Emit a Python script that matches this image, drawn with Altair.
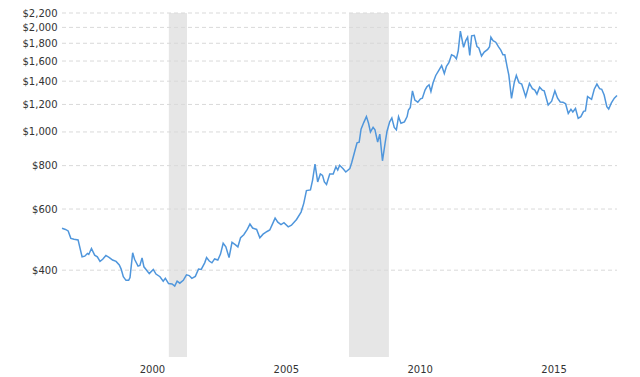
import altair as alt
import pandas as pd

years = [1996.64, 1996.77, 1996.87, 1996.97, 1997.09, 1997.24, 1997.39, 1997.49, 1997.59, 1997.64,
         1997.74, 1997.86, 1997.96, 1998.06, 1998.16, 1998.28, 1998.41, 1998.53, 1998.66, 1998.78,
         1998.85, 1998.93, 1999.03, 1999.13, 1999.18, 1999.28, 1999.35, 1999.48, 1999.55, 1999.63,
         1999.70, 1999.80, 1999.90, 2000.05, 2000.15, 2000.30, 2000.42, 2000.50, 2000.62, 2000.75,
         2000.85, 2000.94, 2001.04, 2001.17, 2001.29, 2001.39, 2001.49, 2001.62, 2001.74, 2001.84,
         2001.97, 2002.04, 2002.14, 2002.24, 2002.34, 2002.46, 2002.56, 2002.66, 2002.76, 2002.88,
         2002.99, 2003.11, 2003.21, 2003.31, 2003.43, 2003.56, 2003.66, 2003.76, 2003.91, 2004.03,
         2004.15, 2004.30, 2004.40, 2004.50, 2004.60, 2004.70, 2004.82, 2004.93, 2005.09, 2005.21,
         2005.40, 2005.57, 2005.67, 2005.77, 2005.92, 2006.00, 2006.09, 2006.19, 2006.29, 2006.37,
         2006.44, 2006.52, 2006.64, 2006.77, 2006.87, 2006.94, 2007.01, 2007.14, 2007.24, 2007.39,
         2007.46, 2007.56, 2007.66, 2007.74, 2007.81, 2007.91, 2008.01, 2008.09, 2008.16, 2008.26,
         2008.33, 2008.43, 2008.51, 2008.61, 2008.71, 2008.78, 2008.88, 2008.96, 2009.05, 2009.13,
         2009.21, 2009.30, 2009.43, 2009.53, 2009.58, 2009.65, 2009.73, 2009.82, 2009.93, 2010.03,
         2010.10, 2010.20, 2010.27, 2010.35, 2010.42, 2010.50, 2010.60, 2010.72, 2010.82, 2010.92,
         2011.00, 2011.09, 2011.19, 2011.29, 2011.37, 2011.44, 2011.52, 2011.64, 2011.72, 2011.79,
         2011.87, 2011.94, 2012.04, 2012.14, 2012.21, 2012.31, 2012.41, 2012.54, 2012.61, 2012.66,
         2012.74, 2012.84, 2012.94, 2013.03, 2013.11, 2013.18, 2013.27, 2013.33, 2013.43, 2013.53,
         2013.61, 2013.71, 2013.81, 2013.96, 2014.10, 2014.21, 2014.30, 2014.38, 2014.48, 2014.58,
         2014.65, 2014.80, 2014.93, 2015.05, 2015.15, 2015.25, 2015.35, 2015.45, 2015.55, 2015.65,
         2015.72, 2015.82, 2015.92, 2016.02, 2016.12, 2016.19, 2016.27, 2016.42, 2016.52, 2016.62,
         2016.72, 2016.80, 2016.89, 2016.99, 2017.06, 2017.16, 2017.27, 2017.37]

prices = [528, 524, 519, 494, 491, 489, 437, 439, 447, 444,
          462, 442, 437, 424, 430, 441, 435, 428, 424, 414,
          403, 383, 374, 374, 381, 449, 430, 411, 413, 434,
          409, 400, 391, 402, 390, 383, 372, 379, 366, 365,
          360, 372, 367, 374, 388, 386, 379, 384, 403, 402,
          420, 435, 425, 420, 431, 428, 445, 478, 467, 435,
          481, 474, 467, 496, 506, 524, 543, 529, 524, 496,
          508, 517, 522, 543, 565, 550, 541, 548, 533, 539,
          560, 588, 623, 678, 681, 727, 808, 718, 757, 750,
          718, 706, 757, 757, 794, 777, 802, 784, 767, 784,
          815, 871, 931, 935, 1018, 1064, 1107, 1059, 1000, 1031,
          1014, 935, 986, 826, 931, 1005, 1069, 1097, 1030, 1014,
          1107, 1059, 1069, 1107, 1157, 1177, 1313, 1235, 1218, 1246,
          1251, 1320, 1349, 1367, 1308, 1385, 1454, 1506, 1553, 1473,
          1546, 1582, 1668, 1654, 1624, 1713, 1952, 1752, 1832, 1874,
          1661, 1891, 1898, 1760, 1745, 1654, 1698, 1728, 1760, 1874,
          1832, 1813, 1760, 1720, 1668, 1668, 1535, 1457, 1250, 1385,
          1454, 1385, 1373, 1263, 1380, 1333, 1320, 1285, 1346, 1320,
          1313, 1196, 1226, 1313, 1251, 1220, 1218, 1205, 1130, 1161,
          1141, 1168, 1094, 1107, 1146, 1150, 1264, 1241, 1327, 1373,
          1333, 1327, 1277, 1182, 1164, 1212, 1251, 1273]

recession_start = [2000.63, 2007.36]
recession_end = [2001.31, 2008.85]

y_ticks = [400, 600, 800, 1000, 1200, 1400, 1600, 1800, 2000, 2200]
x_ticks = [2000, 2005, 2010, 2015]

df = pd.DataFrame({"year": years, "price": prices})
rec = pd.DataFrame({"start": recession_start, "end": recession_end})
grid = pd.DataFrame({"v": y_ticks})

W, H = 555, 344
xscale = alt.Scale(domain=[1996.64, 2017.37], nice=False, zero=False)
yscale = alt.Scale(type="log", domain=[225, 2200], nice=False)

xaxis = alt.Axis(values=x_ticks, format="d", grid=False, ticks=False, tickSize=0,
                 domain=False, labelPadding=7, labelFontSize=10,
                 labelColor="#333333", labelFont="DejaVu Sans", title=None)
yaxis = alt.Axis(values=y_ticks, format="$,.0f", grid=False, ticks=False, tickSize=0,
                 domain=False, labelPadding=5, labelFontSize=10,
                 labelColor="#333333", labelFont="DejaVu Sans", title=None)

bands = alt.Chart(rec).mark_rect(color="#e6e6e6").encode(
    x=alt.X("start:Q", scale=xscale, axis=xaxis),
    x2="end:Q",
    y=alt.value(0),
    y2=alt.value(H),
)

rules = alt.Chart(grid).mark_rule(color="#d9d9d9", strokeDash=[4, 3], strokeWidth=1).encode(
    y=alt.Y("v:Q", scale=yscale, axis=yaxis),
    x=alt.value(0),
    x2=alt.value(W),
)

line = alt.Chart(df).mark_line(color="#4f96dc", strokeWidth=1.5).encode(
    x=alt.X("year:Q", scale=xscale, axis=xaxis),
    y=alt.Y("price:Q", scale=yscale, axis=yaxis),
)

chart = alt.layer(bands, rules, line).properties(
    width=W, height=H,
    autosize=alt.AutoSizeParams(type="none"),
    padding={"left": 54, "top": 5, "right": 6, "bottom": 20},
).configure_view(stroke=None)

chart.save("out.html", embed_options={"renderer": "svg", "actions": False})
